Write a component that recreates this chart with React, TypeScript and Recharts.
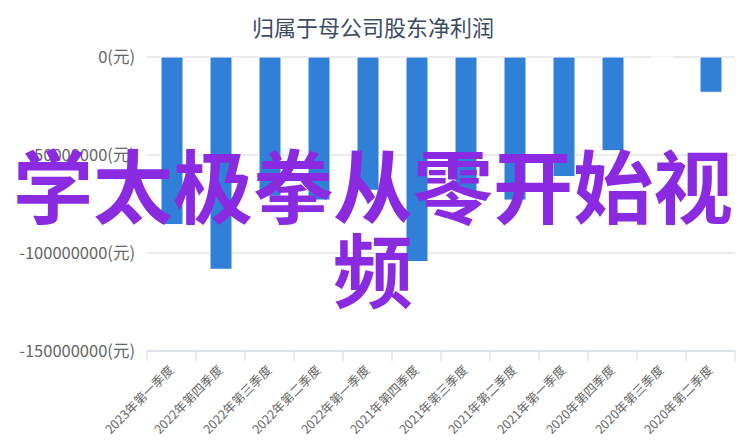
import React from "react"
import { BarChart, Bar, XAxis, YAxis, CartesianGrid } from "recharts"

const quarters = [
  "2023年第一季度",
  "2022年第四季度",
  "2022年第三季度",
  "2022年第二季度",
  "2022年第一季度",
  "2021年第四季度",
  "2021年第三季度",
  "2021年第二季度",
  "2021年第一季度",
  "2020年第四季度",
  "2020年第三季度",
  "2020年第二季度",
]

const netProfit = [
  -85500000, -108300000, -71000000, -73000000, -68000000, -104400000,
  -69000000, -73000000, -61000000, -47800000, -300000, -18000000,
]

const yTicks = [0, -50000000, -100000000, -150000000]

const data = quarters.map((q, i) => ({ quarter: q, value: netProfit[i] }))

const font = '"Noto Sans CJK SC", "Noto Sans", sans-serif'

function QuarterTick(props: any) {
  const { x, y, payload, index } = props
  const off = payload.offset || 0
  const last = index === quarters.length - 1
  return (
    <g>
      <line x1={x - off} y1={y - 8} x2={x - off} y2={y + 2} stroke="#ccd6eb" />
      {last && <line x1={x + off} y1={y - 8} x2={x + off} y2={y + 2} stroke="#ccd6eb" />}
      <text
        x={x + 3}
        y={y + 12}
        transform={`rotate(-45, ${x + 3}, ${y + 12})`}
        textAnchor="end"
        fontSize={12.5}
        fill="#666666"
        fontFamily={font}
      >
        {payload.value}
      </text>
    </g>
  )
}

export default function App() {
  return (
    <div style={{ position: "absolute", left: 0, top: 0, width: 746, height: 442, background: "#fff" }}>
      <div
        style={{
          position: "absolute",
          left: 0,
          top: 11,
          width: 746,
          textAlign: "center",
          fontFamily: font,
          fontSize: 22,
          color: "#3b4b63",
          lineHeight: "30px",
        }}
      >
        归属于母公司股东净利润
      </div>
      <BarChart
        width={746}
        height={442}
        data={data}
        margin={{ top: 57, right: 11, bottom: 0, left: 0 }}
      >
        <CartesianGrid vertical={false} stroke="#d6d6d6" />
        <XAxis
          dataKey="quarter"
          height={91}
          interval={0}
          axisLine={{ stroke: "#ccd6eb" }}
          tickLine={false}
          tickSize={8}
          tickMargin={0}
          tick={<QuarterTick />}
        />
        <YAxis
          width={147}
          domain={[-150000000, 0]}
          ticks={yTicks}
          axisLine={false}
          tickLine={false}
          tickSize={0}
          tickMargin={12}
          tickFormatter={(v) => `${v}(元)`}
          tick={{ fontSize: 16.5, fill: "#666666", fontFamily: font }}
        />
        <Bar
          dataKey="value"
          fill="#3080d8"
          stroke="#ffffff"
          strokeWidth={1}
          barSize={22}
          isAnimationActive={false}
        />
      </BarChart>
      <div
        style={{
          position: "absolute",
          left: 0,
          top: 140,
          width: 746,
          textAlign: "center",
          fontFamily: font,
          fontWeight: 700,
          fontSize: 80,
          lineHeight: "84px",
          color: "#8a2be2",
          pointerEvents: "none",
        }}
      >
        学太极拳从零开始视频
      </div>
    </div>
  )
}
